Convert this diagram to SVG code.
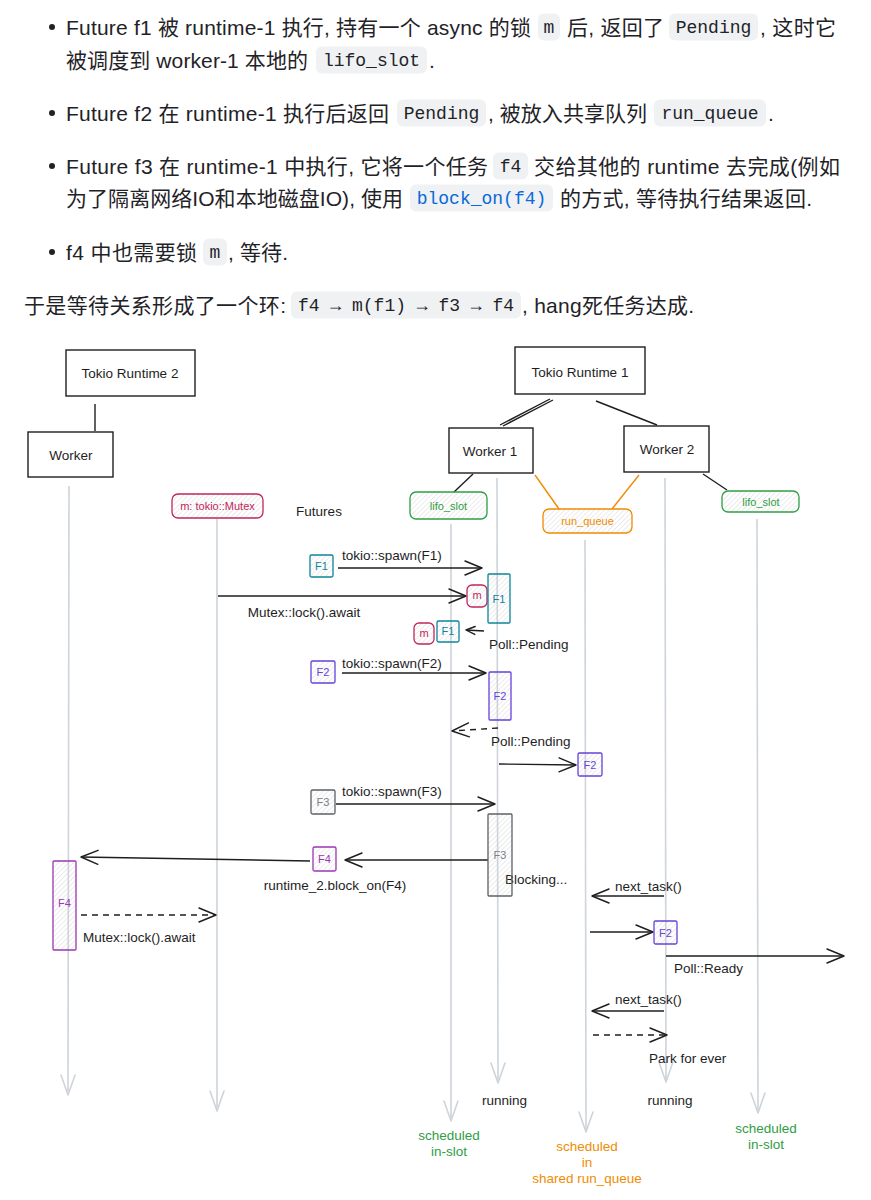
<svg xmlns="http://www.w3.org/2000/svg" width="871" height="1200" viewBox="0 0 871 1200">
<defs>
<style>
.t{font-family:"Liberation Sans","Noto Sans CJK SC",sans-serif;font-size:21px;fill:#1f2328}
.c{font-family:"Liberation Mono",monospace;font-size:18px;fill:#1f2328;text-anchor:middle}
.cb{fill:#eff1f3}
.l{font-family:"Liberation Sans",Arial,sans-serif;font-size:13.5px;fill:#1e1e1e}
.m{text-anchor:middle}
.s{font-family:"Liberation Sans",Arial,sans-serif;font-size:11px;text-anchor:middle}
.box{fill:#fff;stroke:#1e1e1e;stroke-width:1.4}
.ln{stroke:#1e1e1e;stroke-width:1.4;fill:none}
.life{stroke:#ced4da;stroke-width:1.6;fill:none;marker-end:url(#ag)}
.ar{stroke:#1e1e1e;stroke-width:1.4;fill:none;marker-end:url(#ab)}
.ars{stroke:#1e1e1e;stroke-width:1.4;fill:none;marker-end:url(#as)}
.d{stroke-dasharray:6 5}
.hb{fill:url(#h);stroke-width:1.3}
</style>
<pattern id="h" width="3.5" height="3.5" patternUnits="userSpaceOnUse" patternTransform="rotate(45)">
<line x1="0" y1="0" x2="0" y2="3.5" stroke="#c8c8c8" stroke-width="0.7"/>
</pattern>
<marker id="ab" markerUnits="userSpaceOnUse" orient="auto" refX="0" refY="0" markerWidth="1" markerHeight="1" style="overflow:visible">
<path d="M-17,-7 L0,0 L-17,7" fill="none" stroke="#1e1e1e" stroke-width="1.4" stroke-linecap="round" stroke-linejoin="round"/>
</marker>
<marker id="as" markerUnits="userSpaceOnUse" orient="auto" refX="0" refY="0" markerWidth="1" markerHeight="1" style="overflow:visible">
<path d="M-9,-4 L0,0 L-9,4" fill="none" stroke="#1e1e1e" stroke-width="1.4" stroke-linecap="round" stroke-linejoin="round"/>
</marker>
<marker id="ag" markerUnits="userSpaceOnUse" orient="auto" refX="0" refY="0" markerWidth="1" markerHeight="1" style="overflow:visible">
<path d="M-20,-7 L0,0 L-20,7" fill="none" stroke="#ced4da" stroke-width="1.6" stroke-linecap="round" stroke-linejoin="round"/>
</marker>
</defs>
<rect width="871" height="1200" fill="#fff"/>

<g id="intro-text">
<circle cx="52" cy="27" r="3" fill="#1f2328"/>
<circle cx="52" cy="113" r="3" fill="#1f2328"/>
<circle cx="52" cy="166" r="3" fill="#1f2328"/>
<circle cx="52" cy="252" r="3" fill="#1f2328"/>

<text class="t" x="66" y="34.5" textLength="465">Future f1 被 runtime-1 执行, 持有一个 async 的锁</text>
<rect class="cb" x="538" y="13.5" width="22" height="27" rx="6"/>
<text class="c" x="549" y="32.5">m</text>
<text class="t" x="567" y="34.5" textLength="97">后, 返回了</text>
<rect class="cb" x="669" y="13.5" width="89" height="27" rx="6"/>
<text class="c" x="713.5" y="32.5">Pending</text>
<text class="t" x="760" y="34.5" textLength="76">, 这时它</text>

<text class="t" x="66" y="67.5" textLength="242">被调度到 worker-1 本地的</text>
<rect class="cb" x="316" y="46.5" width="111" height="27" rx="6"/>
<text class="c" x="371.5" y="65.5">lifo_slot</text>
<text class="t" x="429" y="67.5">.</text>

<text class="t" x="66" y="120.5" textLength="323">Future f2 在 runtime-1 执行后返回</text>
<rect class="cb" x="397" y="99.5" width="89" height="27" rx="6"/>
<text class="c" x="441.5" y="118.5">Pending</text>
<text class="t" x="488" y="120.5" textLength="159">, 被放入共享队列</text>
<rect class="cb" x="654" y="99.5" width="112" height="27" rx="6"/>
<text class="c" x="710" y="118.5">run_queue</text>
<text class="t" x="768" y="120.5">.</text>

<text class="t" x="66" y="173.5" textLength="422">Future f3 在 runtime-1 中执行, 它将一个任务</text>
<rect class="cb" x="493" y="152.5" width="35" height="27" rx="6"/>
<text class="c" x="510.5" y="171.5">f4</text>
<text class="t" x="534" y="173.5" textLength="306">交给其他的 runtime 去完成(例如</text>

<text class="t" x="66" y="205.5" textLength="337">为了隔离网络IO和本地磁盘IO), 使用</text>
<rect class="cb" x="410" y="184.5" width="143" height="27" rx="6"/>
<text class="c" x="481.5" y="203.5" style="fill:#0969da">block_on(f4)</text>
<text class="t" x="560" y="205.5" textLength="252">的方式, 等待执行结果返回.</text>

<text class="t" x="66" y="259.5" textLength="131">f4 中也需要锁</text>
<rect class="cb" x="203" y="238.5" width="24" height="27" rx="6"/>
<text class="c" x="215" y="257.5">m</text>
<text class="t" x="228" y="259.5" textLength="60">, 等待.</text>

<text class="t" x="24" y="312.5" textLength="262">于是等待关系形成了一个环:</text>
<rect class="cb" x="291" y="291.5" width="230" height="27" rx="6"/>
<text class="c" x="406" y="310.5">f4 → m(f1) → f3 → f4</text>
<text class="t" x="522" y="312.5" textLength="172">, hang死任务达成.</text>
</g>

<g id="connectors">
<line class="ln" x1="95" y1="404" x2="95" y2="431"/>
<line class="ln" x1="553" y1="400" x2="503" y2="426"/>
<line class="ln" x1="550" y1="399" x2="500" y2="425"/>
<line class="ln" x1="596" y1="401" x2="657" y2="425"/>
<line class="ln" x1="473" y1="474" x2="454" y2="492"/>
<line class="ln" x1="703" y1="474" x2="727" y2="490"/>
<line x1="535" y1="475" x2="559" y2="509" stroke="#f08c00" stroke-width="1.4"/>
<line x1="639" y1="475" x2="612" y2="509" stroke="#f08c00" stroke-width="1.4"/>
<line class="life" x1="69" y1="486" x2="68" y2="1095"/>
<line class="life" x1="217" y1="519" x2="217" y2="1111"/>
<line class="life" x1="451" y1="524" x2="451" y2="1121"/>
<line class="life" x1="497" y1="478" x2="498" y2="1083"/>
<line class="life" x1="585" y1="540" x2="586" y2="1132"/>
<line class="life" x1="665" y1="478" x2="666" y2="1082"/>
<line class="life" x1="757" y1="519" x2="758" y2="1113"/>
<line class="ar" x1="338" y1="568" x2="482" y2="568"/>
<line class="ar" x1="218" y1="596" x2="466" y2="596"/>
<line class="ars" x1="484" y1="631" x2="466" y2="630"/>
<line class="ar" x1="342" y1="673" x2="486" y2="673"/>
<line class="ar d" x1="498" y1="728" x2="452" y2="731"/>
<line class="ar" x1="499" y1="764" x2="576" y2="765"/>
<line class="ar" x1="336" y1="804" x2="495" y2="804"/>
<line class="ar" x1="488" y1="860" x2="345" y2="860"/>
<line class="ar" x1="310" y1="861" x2="81" y2="857"/>
<line class="ar d" x1="81" y1="915" x2="216" y2="915"/>
<line class="ar" x1="664" y1="896" x2="592" y2="896"/>
<line class="ar" x1="590" y1="932" x2="653" y2="932"/>
<line class="ar" x1="666" y1="956" x2="844" y2="956"/>
<line class="ar" x1="664" y1="1011" x2="592" y2="1011"/>
<line class="ar d" x1="593" y1="1035" x2="667" y2="1035"/>
<text class="l" x="342" y="560">tokio::spawn(F1)</text>
<text class="l m" x="304" y="617">Mutex::lock().await</text>
<text class="l" x="489" y="649">Poll::Pending</text>
<text class="l" x="342" y="668">tokio::spawn(F2)</text>
<text class="l" x="491" y="746">Poll::Pending</text>
<text class="l" x="342" y="796">tokio::spawn(F3)</text>
<text class="l" x="505" y="884">Blocking...</text>
<text class="l m" x="335" y="890">runtime_2.block_on(F4)</text>
<text class="l" x="83" y="942">Mutex::lock().await</text>
<text class="l" x="615" y="891">next_task()</text>
<text class="l" x="674" y="973">Poll::Ready</text>
<text class="l" x="615" y="1004">next_task()</text>
<text class="l" x="649" y="1063">Park for ever</text>
</g>

<g id="tokio-runtime-2">
<rect class="box" x="66" y="350" width="129" height="46"/>
<text class="l m" x="130" y="378">Tokio Runtime 2</text>
</g>
<g id="worker-rt2">
<rect class="box" x="28" y="432" width="85" height="45"/>
<text class="l m" x="71" y="460">Worker</text>
</g>
<g id="tokio-runtime-1">
<rect class="box" x="515" y="347" width="130" height="47"/>
<text class="l m" x="580" y="377">Tokio Runtime 1</text>
</g>
<g id="worker-1">
<rect class="box" x="449" y="428" width="84" height="45"/>
<text class="l m" x="490" y="456">Worker 1</text>
</g>
<g id="worker-2">
<rect class="box" x="624" y="426" width="85" height="46"/>
<text class="l m" x="667" y="454">Worker 2</text>
</g>
<g id="mutex">
<rect class="hb" x="172" y="494" width="91" height="24" rx="6" stroke="#c2255c"/>
<text class="s" x="217.5" y="510" fill="#c2255c">m: tokio::Mutex</text>
</g>
<g id="futures-label">
<text class="l m" x="319" y="516">Futures</text>
</g>
<g id="lifo-slot-1">
<rect class="hb" x="410" y="492" width="77" height="27" rx="6" stroke="#2f9e44"/>
<text class="s" x="448.5" y="510" fill="#2f9e44">lifo_slot</text>
</g>
<g id="run-queue">
<rect class="hb" x="543" y="509" width="89" height="24" rx="6" stroke="#f08c00"/>
<text class="s" x="587.5" y="525" fill="#f08c00">run_queue</text>
</g>
<g id="lifo-slot-2">
<rect class="hb" x="722" y="491" width="77" height="21" rx="6" stroke="#2f9e44"/>
<text class="s" x="761" y="505.5" fill="#2f9e44">lifo_slot</text>
</g>

<g id="f1-spawn"><rect class="hb" x="310" y="555" width="23" height="22" rx="1.5" stroke="#0c8599"/><text class="s" x="321.5" y="570" fill="#0c8599">F1</text></g>
<g id="m-lock"><rect class="hb" x="467" y="585" width="20" height="22" rx="5" stroke="#c2255c"/><text class="s" x="477" y="599" fill="#c2255c">m</text></g>
<g id="f1-bar"><rect class="hb" x="488" y="574" width="22" height="49" rx="1" stroke="#0c8599"/><text class="s" x="499" y="603" fill="#0c8599">F1</text></g>
<g id="m-slot"><rect class="hb" x="414" y="623" width="20" height="21" rx="5" stroke="#c2255c"/><text class="s" x="424" y="637" fill="#c2255c">m</text></g>
<g id="f1-slot"><rect class="hb" x="437" y="621" width="22" height="21" rx="1.5" stroke="#0c8599"/><text class="s" x="448" y="635" fill="#0c8599">F1</text></g>
<g id="f2-spawn"><rect class="hb" x="311" y="661" width="24" height="22" rx="1.5" stroke="#6741d9"/><text class="s" x="323" y="676" fill="#6741d9">F2</text></g>
<g id="f2-bar"><rect class="hb" x="489" y="672" width="22" height="48" rx="1" stroke="#6741d9"/><text class="s" x="500" y="700" fill="#6741d9">F2</text></g>
<g id="f2-queue"><rect class="hb" x="578" y="753" width="24" height="23" rx="1.5" stroke="#6741d9"/><text class="s" x="590" y="769" fill="#6741d9">F2</text></g>
<g id="f3-spawn"><rect class="hb" x="311" y="790" width="24" height="24" rx="1.5" stroke="#5c6066"/><text class="s" x="323" y="806" fill="#7b8088">F3</text></g>
<g id="f3-bar"><rect class="hb" x="488" y="814" width="24" height="82" rx="1" stroke="#5c6066"/><text class="s" x="500" y="859" fill="#7b8088">F3</text></g>
<g id="f4-box"><rect class="hb" x="313" y="847" width="23" height="24" rx="1.5" stroke="#9c36b5"/><text class="s" x="324.5" y="863" fill="#9c36b5">F4</text></g>
<g id="f4-bar"><rect class="hb" x="53" y="861" width="23" height="89" rx="1" stroke="#9c36b5"/><text class="s" x="64.5" y="907" fill="#9c36b5">F4</text></g>
<g id="f2-worker2"><rect class="hb" x="654" y="921" width="23" height="23" rx="1.5" stroke="#6741d9"/><text class="s" x="665.5" y="936.5" fill="#6741d9">F2</text></g>

<g id="state-labels">
<text class="l m" x="504.5" y="1105">running</text>
<text class="l m" x="670" y="1105">running</text>
<text class="l m" x="449" y="1140" style="fill:#2f9e44">scheduled</text>
<text class="l m" x="449" y="1156" style="fill:#2f9e44">in-slot</text>
<text class="l m" x="587" y="1151" style="fill:#f08c00">scheduled</text>
<text class="l m" x="587" y="1167" style="fill:#f08c00">in</text>
<text class="l m" x="587" y="1183" style="fill:#f08c00">shared run_queue</text>
<text class="l m" x="766" y="1133" style="fill:#2f9e44">scheduled</text>
<text class="l m" x="766" y="1149" style="fill:#2f9e44">in-slot</text>
</g>
</svg>
